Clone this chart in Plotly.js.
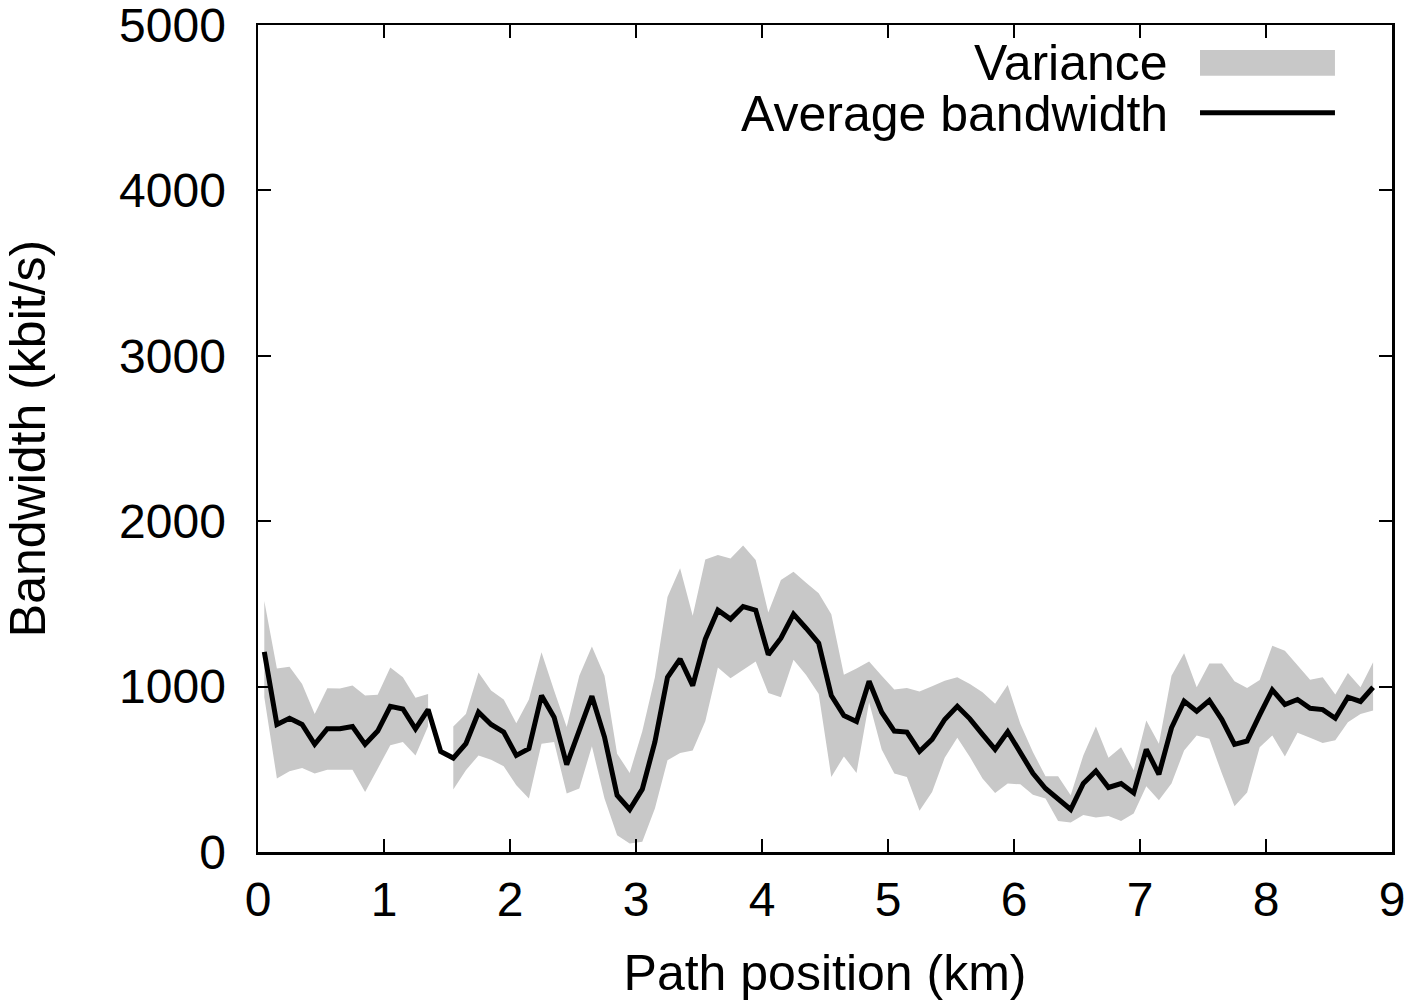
<!DOCTYPE html>
<html>
<head>
<meta charset="utf-8">
<script src="https://cdn.plot.ly/plotly-3.0.1.min.js"></script>
<style>
  html, body { margin: 0; padding: 0; background: #fff; }
  #chart { width: 1408px; height: 1008px; }
</style>
</head>
<body>
<div id="chart"></div>
<script>
// path position (km) of each sample
const positions = [
  0.05, 0.15, 0.25, 0.35, 0.45, 0.55, 0.65, 0.75, 0.85, 0.95, 1.05, 1.15, 1.25, 1.35, 1.45,
  1.55, 1.65, 1.75, 1.85, 1.95, 2.05, 2.15, 2.25, 2.35, 2.45, 2.55, 2.65, 2.75, 2.85, 2.95,
  3.05, 3.15, 3.25, 3.35, 3.45, 3.55, 3.65, 3.75, 3.85, 3.95, 4.05, 4.15, 4.25, 4.35, 4.45,
  4.55, 4.65, 4.75, 4.85, 4.95, 5.05, 5.15, 5.25, 5.35, 5.45, 5.55, 5.65, 5.75, 5.85, 5.95,
  6.05, 6.15, 6.25, 6.35, 6.45, 6.55, 6.65, 6.75, 6.85, 6.95, 7.05, 7.15, 7.25, 7.35, 7.45,
  7.55, 7.65, 7.75, 7.85, 7.95, 8.05, 8.15, 8.25, 8.35, 8.45, 8.55, 8.65, 8.75, 8.85
];

// average bandwidth (kbit/s)
const avgBandwidth = [
  1210, 771, 809, 771, 651, 745, 745, 759, 651, 731, 881, 865, 745, 861, 608,
  568, 655, 845, 771, 725, 584, 625, 946, 815, 528, 735, 942, 695, 343, 257,
  380, 665, 1056, 1167, 1006, 1287, 1462, 1408, 1484, 1462, 1193, 1293, 1438, 1353, 1263,
  946, 825, 789, 1032, 845, 731, 725, 608, 681, 801, 881, 805, 711, 620, 727,
  600, 476, 384, 319, 257, 414, 490, 390, 414, 357, 620, 470, 751, 912, 851,
  916, 801, 651, 671, 829, 980, 892, 922, 869, 861, 809, 936, 910, 996
];

// variance band, upper edge
const varUpper = [
  1518, 1110, 1120, 1016, 835, 990, 988, 1006, 946, 950, 1116, 1056, 932, 956, null,
  759, 835, 1086, 976, 922, 779, 922, 1207, 976, 755, 1066, 1243, 1066, 594, 478,
  730, 1056, 1542, 1715, 1428, 1769, 1795, 1775, 1853, 1765, 1448, 1645, 1695, 1628, 1564,
  1438, 1072, 1110, 1151, 1066, 982, 992, 970, 1002, 1036, 1056, 1016, 966, 896, 1009,
  775, 604, 458, 458, 343, 584, 759, 570, 634, 494, 795, 655, 1066, 1201, 996,
  1140, 1140, 1032, 992, 1040, 1247, 1217, 1127, 1042, 1056, 952, 1082, 996, 1147
];

// variance band, lower edge
const varLower = [
  936, 444, 488, 508, 474, 498, 500, 498, 363, 504, 645, 665, 584, 761, null,
  378, 494, 584, 558, 518, 404, 323, 655, 665, 353, 384, 639, 323, 102, 52,
  62, 263, 554, 598, 614, 791, 1116, 1050, 1100, 1151, 962, 936, 1163, 1070, 956,
  454, 578, 478, 906, 620, 474, 454, 249, 363, 570, 691, 574, 444, 357, 414,
  409, 346, 323, 187, 179, 223, 209, 217, 187, 233, 398, 313, 414, 614, 705,
  685, 474, 277, 360, 634, 705, 578, 721, 691, 659, 675, 785, 835, 855
];

const xTicks = [0, 1, 2, 3, 4, 5, 6, 7, 8, 9];
const yTicks = [0, 1000, 2000, 3000, 4000, 5000];

const FONT = 'Liberation Sans, Arial, Helvetica, sans-serif';
const BAND = '#c8c8c8';

// split the band where data is missing, one closed polygon per piece
const traces = [];
let seg = [];
function flush() {
  if (seg.length > 1) {
    const xs = seg.map(i => positions[i]);
    const up = seg.map(i => varUpper[i]);
    const lo = seg.map(i => varLower[i]);
    traces.push({
      x: xs.concat(xs.slice().reverse()),
      y: up.concat(lo.slice().reverse()),
      type: 'scatter',
      mode: 'lines',
      fill: 'toself',
      fillcolor: BAND,
      line: {width: 0, color: BAND},
      hoverinfo: 'skip',
      showlegend: false
    });
  }
  seg = [];
}
positions.forEach((p, i) => {
  if (varUpper[i] == null || varLower[i] == null) flush();
  else seg.push(i);
});
flush();

traces.push({
  x: positions,
  y: avgBandwidth,
  type: 'scatter',
  mode: 'lines',
  line: {color: '#000', width: 5},
  showlegend: false
});

const axisCommon = {
  showgrid: false,
  zeroline: false,
  showline: true,
  linecolor: '#000',
  linewidth: 2.5,
  mirror: 'allticks',
  ticks: 'inside',
  ticklen: 13,
  tickwidth: 2,
  tickcolor: '#000',
  tickmode: 'array',
  ticklabeloverflow: 'allow',
  tickfont: {family: FONT, size: 48, color: '#000'}
};

const layout = {
  width: 1408,
  height: 1008,
  paper_bgcolor: '#fff',
  plot_bgcolor: '#fff',
  font: {family: FONT, color: '#000'},
  margin: {l: 258, r: 16, t: 25, b: 156},
  xaxis: Object.assign({}, axisCommon, {
    range: [0, 9],
    tickvals: xTicks,
    ticktext: xTicks.map(String),
    ticklabelstandoff: 4,
    title: {text: 'Path position (km)', font: {family: FONT, size: 50, color: '#000'}, standoff: 30}
  }),
  yaxis: Object.assign({}, axisCommon, {
    range: [0, 5000],
    tickvals: yTicks,
    ticktext: yTicks.map(String),
    ticklabelstandoff: 20,
    title: {text: 'Bandwidth (kbit/s)', font: {family: FONT, size: 50, color: '#000'}, standoff: 60}
  }),
  // key drawn gnuplot style: label on the left, sample on the right
  shapes: [
    {type: 'rect', xref: 'paper', yref: 'paper', x0: 0.8307, x1: 0.9497, y0: 0.9386, y1: 0.9699,
      fillcolor: BAND, line: {width: 0}},
    {type: 'line', xref: 'paper', yref: 'paper', x0: 0.8307, x1: 0.9497, y0: 0.894, y1: 0.894,
      line: {color: '#000', width: 5}}
  ],
  annotations: [
    {xref: 'paper', yref: 'paper', x: 0.8045, y: 0.9545, xanchor: 'right', yanchor: 'middle',
      text: 'Variance', showarrow: false, font: {family: FONT, size: 50, color: '#000'}},
    {xref: 'paper', yref: 'paper', x: 0.8045, y: 0.892, xanchor: 'right', yanchor: 'middle',
      text: 'Average bandwidth', showarrow: false, font: {family: FONT, size: 50, color: '#000'}}
  ]
};

Plotly.newPlot('chart', traces, layout, {displayModeBar: false, staticPlot: true});
</script>
</body>
</html>
